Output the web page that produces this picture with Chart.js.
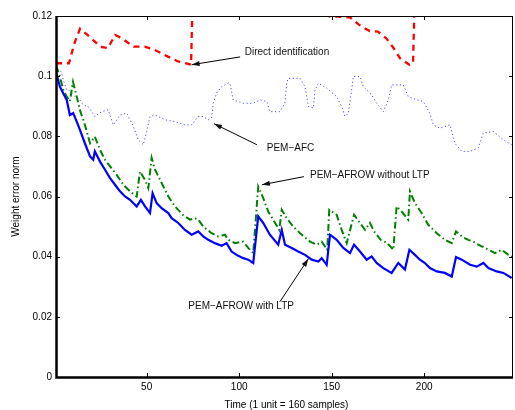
<!DOCTYPE html>
<html>
<head>
<meta charset="utf-8">
<script src="https://cdn.jsdelivr.net/npm/chart.js@4.4.1/dist/chart.umd.min.js"></script>
<style>
  html, body { margin: 0; padding: 0; background: #fff; }
</style>
</head>
<body>
<canvas id="chart" width="515" height="410"></canvas>
<script>
// tick values
const xTicks = [50, 100, 150, 200];
const yTicks = [0, 0.02, 0.04, 0.06, 0.08, 0.1, 0.12];

// Direct identification (goes off the top between ~75 and ~148, and after ~195)
const directX = [1, 8, 11, 14, 18, 25, 29, 33, 36.5, 43, 49, 54.5, 61.5, 67, 72.5, 74, 75, 146, 149, 153.5, 160, 165, 170.5, 175, 179.5, 183.5, 187, 192, 194, 195, 248];
const directY = [0.1043, 0.1043, 0.111, 0.1158, 0.1137, 0.1098, 0.1093, 0.1137, 0.1126, 0.1098, 0.1098, 0.1087, 0.1065, 0.1049, 0.1041, 0.1038, 0.13, 0.13, 0.1198, 0.1198, 0.1195, 0.117, 0.115, 0.1148, 0.1126, 0.1093, 0.1059, 0.1038, 0.1042, 0.13, 0.13];

// PEM-AFC
const afcX = [1, 2.2, 4, 4.9, 6.8, 7.6, 11.2, 13.9, 14.9, 17.6, 18.4, 22, 25.7, 29.2, 32, 35.6, 39.2, 42.8, 45.5, 48.2, 50, 51.8, 54.5, 59.9, 65.3, 70.7, 74.3, 77.9, 80.6, 83.3, 85.1, 86, 87.8, 90.5, 92.3, 94.1, 95, 96.8, 102.2, 107.6, 111.2, 114.9, 116.6, 122, 124.7, 125.7, 126.5, 132.9, 135.6, 137.4, 140.1, 141, 142.8, 147.3, 152.7, 155.4, 157.2, 159, 160.8, 161.7, 165.3, 167.1, 171.6, 174.3, 177.9, 180.6, 182.4, 188.7, 191.4, 196, 199.5, 203.1, 204.9, 208.5, 214, 216.6, 220.3, 224.8, 229.2, 231.9, 237.4, 242.8, 247.3];
const afcY = [0.1035, 0.1021, 0.1014, 0.0988, 0.0955, 0.0955, 0.0932, 0.0921, 0.091, 0.0899, 0.0899, 0.0866, 0.0882, 0.0888, 0.0838, 0.0871, 0.0877, 0.0833, 0.0788, 0.0772, 0.0816, 0.0866, 0.0871, 0.0855, 0.0849, 0.0838, 0.0838, 0.0866, 0.0866, 0.0855, 0.0861, 0.091, 0.0944, 0.0965, 0.0971, 0.0977, 0.0977, 0.0921, 0.091, 0.091, 0.0921, 0.0916, 0.0882, 0.0882, 0.091, 0.0977, 0.0993, 0.0993, 0.0965, 0.0899, 0.0894, 0.0954, 0.0977, 0.096, 0.0932, 0.0899, 0.0866, 0.0877, 0.0954, 0.0999, 0.0999, 0.0965, 0.0938, 0.091, 0.0882, 0.0921, 0.0971, 0.0971, 0.0932, 0.0921, 0.0916, 0.0877, 0.0838, 0.0827, 0.0838, 0.0777, 0.075, 0.075, 0.0761, 0.0811, 0.0816, 0.0788, 0.0772];

// PEM-AFROW without LTP
const noLtpX = [1, 3.1, 4.9, 6.8, 8.5, 10.2, 12.2, 13.9, 16.6, 19.4, 22, 24.8, 27.5, 30.2, 33.8, 37.4, 41, 44.6, 46.4, 49.1, 50.9, 52.7, 54.5, 58.1, 61.7, 65.3, 69.8, 73.4, 76.1, 77.9, 80.6, 85.1, 88.7, 92.3, 94.1, 97.7, 102.2, 104.9, 107.6, 110.3, 113, 115.7, 118.4, 121.7, 123, 125.7, 129.2, 132.9, 138.3, 141.9, 144.6, 147.6, 148.7, 152.7, 155.4, 158.1, 162.1, 165.3, 168, 170.7, 172.9, 176.5, 180.1, 183.3, 185.1, 187.8, 191.4, 192.3, 195, 198.6, 202.2, 206.8, 211.2, 214.9, 217.2, 220.3, 223.8, 226.5, 229.2, 232.9, 238.3, 241.9, 245.5, 247.5];
const noLtpY = [0.1035, 0.0999, 0.0955, 0.0932, 0.0916, 0.0981, 0.0932, 0.0888, 0.0838, 0.0777, 0.0799, 0.0755, 0.0722, 0.07, 0.0672, 0.0639, 0.0617, 0.06, 0.0683, 0.0655, 0.0628, 0.0728, 0.0689, 0.0645, 0.06, 0.0567, 0.0538, 0.0523, 0.0528, 0.0523, 0.05, 0.0478, 0.0467, 0.0473, 0.0456, 0.0445, 0.045, 0.0429, 0.0412, 0.0633, 0.0595, 0.055, 0.0523, 0.0489, 0.0556, 0.0528, 0.05, 0.0478, 0.045, 0.044, 0.045, 0.0423, 0.0556, 0.0539, 0.0489, 0.0445, 0.0539, 0.0512, 0.0489, 0.0512, 0.0484, 0.0456, 0.0445, 0.0423, 0.0567, 0.055, 0.0523, 0.0617, 0.0578, 0.0545, 0.0506, 0.0478, 0.0456, 0.0445, 0.0484, 0.0467, 0.0456, 0.045, 0.044, 0.0429, 0.0412, 0.0423, 0.0406, 0.04];

// PEM-AFROW with LTP
const ltpX = [1, 3.1, 4.9, 6.8, 8.5, 10.3, 12.2, 13.9, 16.6, 19.4, 21.1, 22, 24.8, 27.5, 30.2, 32.9, 35.6, 38.3, 41, 44.6, 46.9, 49.1, 51.8, 53.2, 55.4, 58.1, 61.7, 63.5, 67.1, 70.7, 74.3, 77.9, 80.6, 83.3, 86.9, 90.5, 93.2, 95.9, 98.6, 102.2, 104.9, 107.6, 110.3, 113, 116.6, 121.1, 123, 124.8, 128.4, 131.9, 135.6, 139.2, 142.8, 144.6, 147.3, 149.1, 152.7, 156.3, 159.9, 162.1, 165.3, 168.9, 171.6, 174.3, 177.9, 182.4, 186, 189.6, 192, 195, 197.7, 200.4, 203.1, 206.8, 211.2, 214.9, 217.2, 220.3, 224.8, 228.4, 232, 234.7, 239.2, 242.8, 247.3];
const ltpY = [0.1015, 0.0965, 0.0943, 0.0921, 0.0871, 0.0877, 0.0849, 0.0822, 0.0777, 0.0733, 0.0722, 0.075, 0.0716, 0.0689, 0.0661, 0.0639, 0.0617, 0.06, 0.0589, 0.0567, 0.0589, 0.0567, 0.0545, 0.0611, 0.0578, 0.0561, 0.0545, 0.0528, 0.0512, 0.0489, 0.0473, 0.0484, 0.0467, 0.0456, 0.0445, 0.0436, 0.0445, 0.0417, 0.0406, 0.0395, 0.039, 0.0379, 0.0534, 0.0512, 0.0473, 0.044, 0.0489, 0.044, 0.0429, 0.0417, 0.0406, 0.039, 0.0384, 0.0395, 0.0373, 0.0473, 0.0456, 0.0429, 0.0412, 0.044, 0.0417, 0.039, 0.0401, 0.0379, 0.0362, 0.0346, 0.0379, 0.0357, 0.0423, 0.0406, 0.039, 0.0379, 0.0362, 0.0351, 0.0346, 0.0334, 0.0399, 0.039, 0.0373, 0.0367, 0.0379, 0.0362, 0.0351, 0.0346, 0.0329];

// text labels with arrows, in data coordinates
const notes = [
  { text: 'Direct identification', at: [103, 0.1081], from: [100.5, 0.1064], to: [74.3, 0.1038] },
  { text: 'PEM\u2212AFC', at: [114.9, 0.0762], from: [109.6, 0.0772], to: [86.4, 0.0842] },
  { text: 'PEM\u2212AFROW without LTP', at: [138.3, 0.0672], from: [135, 0.0666], to: [112.3, 0.0639] },
  { text: 'PEM\u2212AFROW with LTP', at: [72.5, 0.0235], from: [122, 0.025], to: [137.4, 0.0393] }
];

const FONT = '"Liberation Sans", Arial, Helvetica, sans-serif';

function toPoints(xs, ys) {
  return xs.map((x, i) => ({ x: x, y: ys[i] }));
}

const framePlugin = {
  id: 'frame',
  afterDatasetsDraw(chart) {
    const { ctx, chartArea: a, scales: { x, y } } = chart;
    ctx.save();
    ctx.strokeStyle = '#000';
    ctx.lineWidth = 1;
    ctx.beginPath();
    ctx.moveTo(a.left, a.top + 0.5);
    ctx.lineTo(a.right, a.top + 0.5);
    ctx.moveTo(a.right - 0.5, a.top);
    ctx.lineTo(a.right - 0.5, a.bottom);
    xTicks.forEach(v => {
      const px = Math.round(x.getPixelForValue(v)) + 0.5;
      ctx.moveTo(px, a.bottom); ctx.lineTo(px, a.bottom - 4);
      ctx.moveTo(px, a.top); ctx.lineTo(px, a.top + 4);
    });
    yTicks.forEach(v => {
      const py = Math.round(y.getPixelForValue(v)) + 0.5;
      ctx.moveTo(a.left, py); ctx.lineTo(a.left + 4, py);
      ctx.moveTo(a.right, py); ctx.lineTo(a.right - 4, py);
    });
    ctx.stroke();

    ctx.lineWidth = 2.5;
    ctx.beginPath();
    ctx.moveTo(a.left + 0.5, a.top);
    ctx.lineTo(a.left + 0.5, a.bottom + 0.5);
    ctx.lineTo(a.right, a.bottom + 0.5);
    ctx.stroke();

    // annotations
    ctx.font = '10px ' + FONT;
    ctx.fillStyle = '#111';
    ctx.textBaseline = 'middle';
    ctx.textAlign = 'left';
    ctx.lineWidth = 1;
    notes.forEach(n => {
      ctx.fillText(n.text, x.getPixelForValue(n.at[0]), y.getPixelForValue(n.at[1]));
      const x0 = x.getPixelForValue(n.from[0]), y0 = y.getPixelForValue(n.from[1]);
      const x1 = x.getPixelForValue(n.to[0]), y1 = y.getPixelForValue(n.to[1]);
      const ang = Math.atan2(y1 - y0, x1 - x0);
      ctx.beginPath();
      ctx.moveTo(x0, y0);
      ctx.lineTo(x1, y1);
      ctx.stroke();
      ctx.beginPath();
      ctx.moveTo(x1, y1);
      ctx.lineTo(x1 - 8 * Math.cos(ang) + 2.6 * Math.sin(ang), y1 - 8 * Math.sin(ang) - 2.6 * Math.cos(ang));
      ctx.lineTo(x1 - 8 * Math.cos(ang) - 2.6 * Math.sin(ang), y1 - 8 * Math.sin(ang) + 2.6 * Math.cos(ang));
      ctx.closePath();
      ctx.fill();
    });

    // axis titles
    ctx.fillStyle = '#000';
    ctx.textAlign = 'center';
    ctx.fillText('Time (1 unit = 160 samples)', (a.left + a.right) / 2 + 2, 405);
    ctx.translate(16, (a.top + a.bottom) / 2);
    ctx.rotate(-Math.PI / 2);
    ctx.fillText('Weight error norm', 0, 0);
    ctx.restore();
  }
};

Chart.defaults.font.family = FONT;
Chart.defaults.font.size = 10;
Chart.defaults.color = '#000';

new Chart(document.getElementById('chart'), {
  type: 'line',
  data: {
    datasets: [
      {
        label: 'PEM-AFROW with LTP',
        data: toPoints(ltpX, ltpY),
        borderColor: '#0000ff',
        borderWidth: 2.2
      },
      {
        label: 'PEM-AFROW without LTP',
        data: toPoints(noLtpX, noLtpY),
        borderColor: '#008000',
        borderWidth: 2,
        borderDash: [7, 3, 1.5, 3]
      },
      {
        label: 'PEM-AFC',
        data: toPoints(afcX, afcY),
        borderColor: '#4a4aff',
        borderWidth: 1,
        borderDash: [1.2, 2.5]
      },
      {
        label: 'Direct identification',
        data: toPoints(directX, directY),
        borderColor: '#ff0000',
        borderWidth: 2.3,
        borderDash: [6, 5]
      }
    ]
  },
  options: {
    responsive: false,
    animation: false,
    events: [],
    layout: { padding: { top: 16, right: 2, left: 0, bottom: 0 } },
    elements: {
      point: { radius: 0 },
      line: { tension: 0, fill: false }
    },
    plugins: {
      legend: { display: false },
      tooltip: { enabled: false }
    },
    scales: {
      x: {
        type: 'linear',
        min: 1,
        max: 248,
        grid: { display: false, drawTicks: false },
        border: { display: false },
        afterFit: s => { s.height = 33; },
        afterBuildTicks: s => { s.ticks = xTicks.map(v => ({ value: v })); },
        ticks: { padding: 4, maxRotation: 0, autoSkip: false }
      },
      y: {
        min: 0,
        max: 0.12,
        grid: { display: false, drawTicks: false },
        border: { display: false },
        afterFit: s => { s.width = 56; },
        afterBuildTicks: s => { s.ticks = yTicks.map(v => ({ value: v })); },
        ticks: {
          padding: 4,
          callback: v => String(parseFloat(v.toFixed(2)))
        }
      }
    }
  },
  plugins: [framePlugin]
});
</script>
</body>
</html>
